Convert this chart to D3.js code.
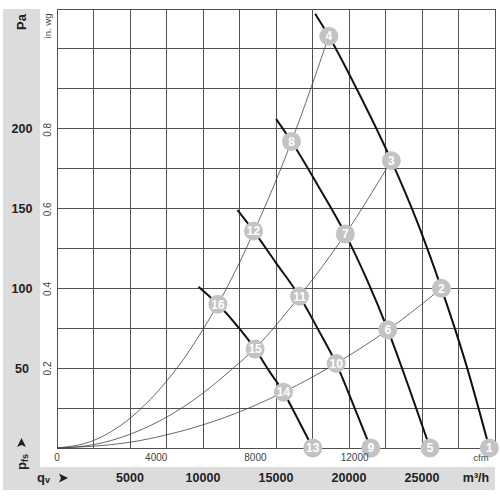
<!DOCTYPE html>
<meta charset="utf-8">
<script src="https://d3js.org/d3.v7.min.js"></script>
<style>
  body { margin: 0; background: #fff; }
  text { font-family: "Liberation Sans", Arial, sans-serif; }
</style>
<div id="chart"></div>
<script>

// axis tick labels
var flowTicks = [5000, 10000, 15000, 20000, 25000];   // m³/h (bottom band)
var cfmTicks = [0, 4000, 8000, 12000];                  // cfm (under plot)
var paTicks = [50, 100, 150, 200];                       // Pa (left band)
var inwgTicks = [0.2, 0.4, 0.6, 0.8];                    // in. wg

// fan curves, [m³/h, Pa]
var fan1 = [[17680, 272], [18620, 258], [20800, 220], [22900, 180], [24700, 141], [26330, 100], [28000, 53], [29610, 0]];
var fan2 = [[15010, 206], [16060, 192], [17900, 164], [19750, 134], [21250, 105], [22660, 74], [24100, 38], [25550, 0]];
var fan3 = [[12360, 149], [13460, 136], [15000, 116], [16610, 95], [17900, 74], [19120, 53], [20300, 27], [21490, 0]];
var fan4 = [[9690, 101], [11020, 90], [12300, 77], [13570, 62], [14550, 48], [15510, 35], [16500, 18], [17520, 0]];

// system curves (thin), [m³/h, Pa]
var sysA = [[0, 0], [2500, 4.7], [5000, 18.6], [6000, 26.8], [7500, 41.8], [8300, 51], [10000, 74.3], [11020, 90], [13460, 135], [16060, 192], [18620, 258]];
var sysB = [[0, 0], [2500, 2.1], [5000, 8.6], [7500, 19.3], [8500, 24.8], [10000, 34.4], [12000, 49.5], [13570, 62.5], [16610, 95], [19750, 134], [22900, 180]];
var sysC = [[0, 0], [5000, 3.6], [7500, 8.2], [10000, 14.5], [13000, 24.5], [15510, 35], [19120, 53], [22660, 74], [26330, 100]];

// numbered operating points
var pointNo = [1, 2, 3, 4, 5, 6, 7, 8, 9, 10, 11, 12, 13, 14, 15, 16];
var pointQ  = [29610, 26330, 22900, 18620, 25550, 22660, 19750, 16060, 21490, 19120, 16610, 13460, 17520, 15510, 13570, 11020];
var pointP  = [0, 100, 180, 258, 0, 74, 134, 192, 0, 53, 95, 136, 0, 35, 62, 90];

var width = 500, height = 500;
var plotLeft = 57, plotRight = 495, plotTop = 9, plotBottom = 448;

var svg = d3.select("#chart").append("svg")
    .attr("width", width)
    .attr("height", height);

var x = d3.scaleLinear().domain([0, 30000]).range([plotLeft, plotRight]);
var y = d3.scaleLinear().domain([0, 275]).range([plotBottom, plotTop]);
var xCfm = d3.scaleLinear().domain([0, 30000 / 1.699]).range([plotLeft, plotRight]);
var yIn = d3.scaleLinear().domain([0, 275 / 249.09]).range([plotBottom, plotTop]);

// grey bands
svg.append("rect").attr("x", 3).attr("y", plotTop).attr("width", 37).attr("height", 490 - plotTop).attr("fill", "#dcdcdc");
svg.append("rect").attr("x", 3).attr("y", 467).attr("width", plotRight - 3).attr("height", 23).attr("fill", "#dcdcdc");

// grid
var g = svg.append("g").attr("stroke", "#505050").attr("stroke-width", 1).attr("shape-rendering", "crispEdges");
g.selectAll(".v").data(d3.range(0, 30001, 2500)).enter().append("line")
    .attr("x1", function(d) { return x(d); }).attr("x2", function(d) { return x(d); })
    .attr("y1", plotTop).attr("y2", plotBottom);
g.selectAll(".h").data(d3.range(0, 276, 25)).enter().append("line")
    .attr("y1", function(d) { return y(d); }).attr("y2", function(d) { return y(d); })
    .attr("x1", plotLeft).attr("x2", plotRight);

// curves
var line = d3.line()
    .x(function(d) { return x(d[0]); })
    .y(function(d) { return y(d[1]); })
    .curve(d3.curveMonotoneX);

[sysA, sysB, sysC].forEach(function(s) {
    svg.append("path").attr("d", line(s))
        .attr("fill", "none").attr("stroke", "#444").attr("stroke-width", 0.8);
});
[fan1, fan2, fan3, fan4].forEach(function(f) {
    svg.append("path").attr("d", line(f))
        .attr("fill", "none").attr("stroke", "#111").attr("stroke-width", 2);
});

// numbered circles
var pts = svg.selectAll(".pt").data(pointNo).enter().append("g")
    .attr("transform", function(d, i) { return "translate(" + x(pointQ[i]) + "," + y(pointP[i]) + ")"; });
pts.append("circle").attr("r", 9.5).attr("fill", "#c3c3c3");
pts.append("text").text(function(d) { return d; })
    .attr("text-anchor", "middle").attr("dy", "0.36em")
    .attr("fill", "#fff").attr("font-weight", "bold").attr("font-size", "12px");

// left band: Pa
svg.append("text").text("Pa")
    .attr("transform", "translate(26,22) rotate(-90)")
    .attr("text-anchor", "middle").attr("font-weight", "bold").attr("font-size", "13px").attr("fill", "#222");
svg.selectAll(".pa").data(paTicks).enter().append("text")
    .text(function(d) { return d; })
    .attr("x", 22).attr("y", function(d) { return y(d) + 4.5; })
    .attr("text-anchor", "middle").attr("font-weight", "bold").attr("font-size", "12.5px").attr("fill", "#222");

// pfs with arrow
var pfs = svg.append("text").attr("transform", "translate(26,470) rotate(-90)")
    .attr("font-weight", "bold").attr("font-size", "13px").attr("fill", "#222");
pfs.append("tspan").text("p");
pfs.append("tspan").text("fs").attr("font-size", "9px").attr("dy", 2);
svg.append("path").attr("d", "M0,-5 L4.5,4 L0,2 L-4.5,4 Z")
    .attr("transform", "translate(21.5,443)").attr("fill", "#222");

// in. wg
svg.append("text").text("in. wg")
    .attr("transform", "translate(51,26) rotate(-90)")
    .attr("text-anchor", "middle").attr("font-size", "9.5px").attr("fill", "#444");
svg.selectAll(".inwg").data(inwgTicks).enter().append("text")
    .text(function(d) { return d.toFixed(1); })
    .attr("transform", function(d) { return "translate(51," + yIn(d) + ") rotate(-90)"; })
    .attr("text-anchor", "middle").attr("font-size", "10px").attr("fill", "#444");

// cfm
svg.selectAll(".cfm").data(cfmTicks).enter().append("text")
    .text(function(d) { return d; })
    .attr("x", function(d) { return xCfm(d); }).attr("y", 461)
    .attr("text-anchor", "middle").attr("font-size", "10px").attr("fill", "#444");
svg.append("text").text("cfm").attr("x", 481).attr("y", 461)
    .attr("text-anchor", "middle").attr("font-size", "9.5px").attr("fill", "#444");

// bottom band: qv and m³/h
var qv = svg.append("text").attr("x", 37).attr("y", 482)
    .attr("font-weight", "bold").attr("font-size", "13px").attr("fill", "#222");
qv.append("tspan").text("q");
qv.append("tspan").text("v").attr("font-size", "9px").attr("dy", 1);
svg.append("path").attr("d", "M5,0 L-4,4.5 L-2,0 L-4,-4.5 Z")
    .attr("transform", "translate(63,478)").attr("fill", "#222");
svg.selectAll(".flow").data(flowTicks).enter().append("text")
    .text(function(d) { return d; })
    .attr("x", function(d) { return x(d); }).attr("y", 482)
    .attr("text-anchor", "middle").attr("font-weight", "bold").attr("font-size", "12.5px").attr("fill", "#222");
svg.append("text").text("m³/h").attr("x", 476).attr("y", 482)
    .attr("text-anchor", "middle").attr("font-weight", "bold").attr("font-size", "12.5px").attr("fill", "#222");

</script>
